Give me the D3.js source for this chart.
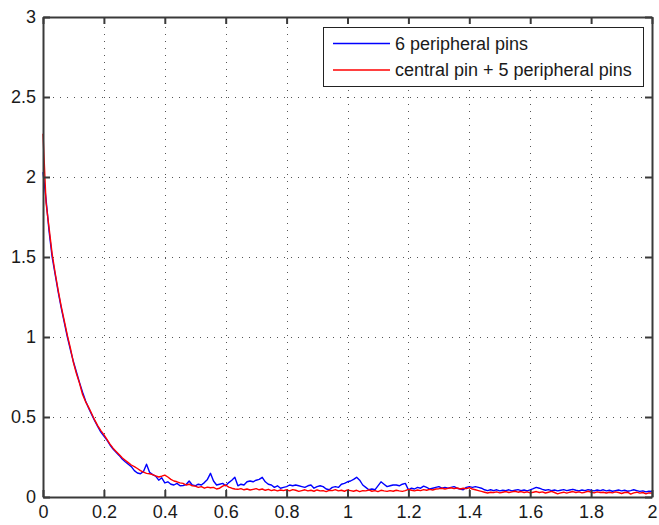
<!DOCTYPE html>
<html>
<head>
<meta charset="utf-8">
<script src="https://cdn.jsdelivr.net/npm/d3@7"></script>
<style>
  html, body { margin: 0; padding: 0; background: #fff; }
  svg { display: block; }
  text { font-family: "Liberation Sans", Arial, sans-serif; fill: #1a1a1a; }
</style>
</head>
<body>
<svg id="chart" width="659" height="525"></svg>
<script>
// ---- data ----
const sampleStep = 0.01;   // x spacing of samples, from 0 to 2
const seriesNames = ["6 peripheral pins", "central pin + 5 peripheral pins"];
const seriesColors = ["#0000ff", "#ff0000"];

const bluePeripheral = [
  2.03, 1.86, 1.66, 1.50, 1.39, 1.28, 1.18, 1.09, 1.00, 0.92,
  0.845, 0.78, 0.715, 0.655, 0.60, 0.555, 0.515, 0.475, 0.44, 0.405,
  0.38, 0.355, 0.325, 0.30, 0.28, 0.26, 0.238, 0.22, 0.205, 0.19,
  0.165, 0.15, 0.145, 0.16, 0.205, 0.155, 0.14, 0.13, 0.105, 0.12,
  0.088, 0.095, 0.08, 0.075, 0.085, 0.07, 0.072, 0.078, 0.10, 0.075,
  0.07, 0.08, 0.075, 0.09, 0.11, 0.148, 0.10, 0.075, 0.08, 0.085,
  0.07, 0.09, 0.105, 0.123, 0.07, 0.08, 0.075, 0.095, 0.10, 0.095,
  0.105, 0.11, 0.123, 0.095, 0.08, 0.075, 0.06, 0.07, 0.055, 0.06,
  0.065, 0.075, 0.07, 0.075, 0.07, 0.065, 0.06, 0.07, 0.075, 0.055,
  0.065, 0.07, 0.065, 0.05, 0.045, 0.06, 0.065, 0.06, 0.08, 0.085,
  0.095, 0.10, 0.11, 0.123, 0.105, 0.075, 0.06, 0.045, 0.05, 0.045,
  0.07, 0.095, 0.08, 0.065, 0.07, 0.075, 0.075, 0.07, 0.08, 0.085,
  0.045, 0.055, 0.05, 0.06, 0.055, 0.068, 0.06, 0.05, 0.055, 0.06,
  0.065, 0.055, 0.06, 0.055, 0.06, 0.065, 0.055, 0.05, 0.045, 0.06,
  0.065, 0.06, 0.065, 0.06, 0.055, 0.045, 0.04, 0.045, 0.04, 0.045,
  0.038, 0.042, 0.04, 0.045, 0.038, 0.042, 0.046, 0.04, 0.044, 0.038,
  0.045, 0.052, 0.06, 0.055, 0.048, 0.042, 0.046, 0.04, 0.044, 0.038,
  0.042, 0.046, 0.04, 0.044, 0.048, 0.042, 0.038, 0.044, 0.04, 0.046,
  0.042, 0.038, 0.044, 0.04, 0.045, 0.038, 0.042, 0.036, 0.04, 0.044,
  0.038, 0.042, 0.036, 0.04, 0.045, 0.04, 0.035, 0.038, 0.032, 0.036,
  0.034
];

const redCentral = [
  2.27, 1.84, 1.68, 1.52, 1.40, 1.29, 1.19, 1.10, 1.01, 0.93,
  0.84, 0.77, 0.71, 0.64, 0.595, 0.56, 0.52, 0.48, 0.445, 0.415,
  0.39, 0.36, 0.33, 0.305, 0.285, 0.265, 0.245, 0.23, 0.215, 0.20,
  0.19, 0.178, 0.165, 0.155, 0.148, 0.145, 0.14, 0.132, 0.125, 0.13,
  0.137, 0.125, 0.11, 0.10, 0.095, 0.088, 0.085, 0.075, 0.08, 0.07,
  0.068, 0.06, 0.065, 0.055, 0.062, 0.058, 0.06, 0.05, 0.055, 0.068,
  0.075, 0.062, 0.055, 0.05, 0.048, 0.052, 0.045, 0.05, 0.044, 0.048,
  0.052, 0.045, 0.05, 0.042, 0.048, 0.04, 0.045, 0.038, 0.044, 0.04,
  0.045, 0.038, 0.046, 0.042, 0.035, 0.04, 0.045, 0.038, 0.042, 0.036,
  0.044, 0.038, 0.04, 0.034, 0.042, 0.04, 0.046, 0.038, 0.042, 0.036,
  0.044, 0.04, 0.036, 0.042, 0.034, 0.04, 0.038, 0.044, 0.036, 0.04,
  0.034, 0.042, 0.038, 0.035, 0.04, 0.036, 0.042, 0.038, 0.035, 0.04,
  0.048, 0.042, 0.038, 0.044, 0.04, 0.046, 0.042, 0.048, 0.044, 0.05,
  0.052, 0.055, 0.05, 0.054, 0.058, 0.052, 0.056, 0.05, 0.055, 0.052,
  0.058, 0.05, 0.045, 0.04, 0.035, 0.03, 0.025, 0.03, 0.028, 0.032,
  0.026, 0.03, 0.034, 0.028, 0.032, 0.036, 0.03, 0.034, 0.028, 0.032,
  0.026, 0.03, 0.034, 0.028, 0.032, 0.025, 0.03, 0.035, 0.028, 0.02,
  0.026, 0.03, 0.024, 0.03, 0.034, 0.028, 0.032, 0.026, 0.03, 0.036,
  0.03, 0.026, 0.032, 0.028, 0.03, 0.025, 0.03, 0.026, 0.032, 0.028,
  0.022, 0.028, 0.03, 0.018, 0.026, 0.03, 0.024, 0.028, 0.02, 0.026,
  0.024
];

const xTickValues = [0, 0.2, 0.4, 0.6, 0.8, 1, 1.2, 1.4, 1.6, 1.8, 2];
const xTickLabels = ["0", "0.2", "0.4", "0.6", "0.8", "1", "1.2", "1.4", "1.6", "1.8", "2"];
const yTickValues = [0, 0.5, 1, 1.5, 2, 2.5, 3];
const yTickLabels = ["0", "0.5", "1", "1.5", "2", "2.5", "3"];

// ---- layout ----
const plotLeft = 43, plotRight = 652, plotTop = 17, plotBottom = 497;
const svg = d3.select("#chart");

const x = d3.scaleLinear().domain([0, 2]).range([plotLeft, plotRight]);
const y = d3.scaleLinear().domain([0, 3]).range([plotBottom, plotTop]);

// grid (dotted, 7px pitch)
const grid = svg.append("g").attr("class", "grid");
grid.selectAll("line.vg")
  .data(xTickValues.filter(v => v > 0 && v < 2))
  .join("line")
  .attr("x1", d => Math.round(x(d)) + 0.5).attr("x2", d => Math.round(x(d)) + 0.5)
  .attr("y1", plotTop + 3).attr("y2", plotBottom)
  .attr("stroke", "#555").attr("stroke-width", 1)
  .attr("stroke-dasharray", "1,6");
grid.selectAll("line.hg")
  .data(yTickValues.filter(v => v > 0 && v < 3))
  .join("line")
  .attr("y1", d => Math.round(y(d)) + 0.5).attr("y2", d => Math.round(y(d)) + 0.5)
  .attr("x1", plotLeft + 3).attr("x2", plotRight)
  .attr("stroke", "#555").attr("stroke-width", 1)
  .attr("stroke-dasharray", "1,6");

// lines
const line = d3.line()
  .x((d, i) => x(i * sampleStep))
  .y(d => y(d));

[bluePeripheral, redCentral].forEach((series, k) => {
  svg.append("path")
    .datum(series)
    .attr("d", line)
    .attr("fill", "none")
    .attr("stroke", seriesColors[k])
    .attr("stroke-width", 1.4)
    .attr("stroke-linejoin", "round");
});

// axes (MATLAB-style box with inward ticks on all sides)
const axisColor = "#3a3a3a";
const bottomAxis = d3.axisBottom(x).tickValues(xTickValues)
  .tickFormat((d, i) => xTickLabels[i]).tickSizeInner(-7).tickSizeOuter(0).tickPadding(14);
const leftAxis = d3.axisLeft(y).tickValues(yTickValues)
  .tickFormat((d, i) => yTickLabels[i]).tickSizeInner(-7).tickSizeOuter(0).tickPadding(14);
const topAxis = d3.axisTop(x).tickValues(xTickValues).tickFormat("").tickSizeInner(-7).tickSizeOuter(0);
const rightAxis = d3.axisRight(y).tickValues(yTickValues).tickFormat("").tickSizeInner(-7).tickSizeOuter(0);

function styleAxis(g) {
  g.select(".domain").attr("stroke", axisColor).attr("stroke-width", 2);
  g.selectAll(".tick line").attr("stroke", axisColor).attr("stroke-width", 2);
  g.selectAll(".tick text")
    .attr("font-family", "'Liberation Sans', Arial, sans-serif")
    .attr("font-size", 18).attr("fill", "#1a1a1a");
}

svg.append("g").attr("transform", `translate(0,${plotBottom})`).call(bottomAxis).call(styleAxis)
  .selectAll(".tick text").attr("dy", "0.71em").attr("y", 8);
svg.append("g").attr("transform", `translate(${plotLeft},0)`).call(leftAxis).call(styleAxis)
  .selectAll(".tick text").attr("x", -7);
svg.append("g").attr("transform", `translate(0,${plotTop})`).call(topAxis).call(styleAxis);
svg.append("g").attr("transform", `translate(${plotRight},0)`).call(rightAxis).call(styleAxis);

// legend
const legend = svg.append("g").attr("class", "legend");
legend.append("rect")
  .attr("x", 323.5).attr("y", 27.5).attr("width", 320).attr("height", 59)
  .attr("fill", "#fff").attr("stroke", "#222").attr("stroke-width", 1);
seriesNames.forEach((name, i) => {
  const ly = 43.5 + i * 26.5;
  legend.append("line")
    .attr("x1", 333).attr("x2", 390).attr("y1", ly).attr("y2", ly)
    .attr("stroke", seriesColors[i]).attr("stroke-width", 1.4);
  legend.append("text")
    .attr("x", 395).attr("y", ly).attr("dy", "0.35em")
    .attr("font-size", 18)
    .text(name);
});
</script>
</body>
</html>
